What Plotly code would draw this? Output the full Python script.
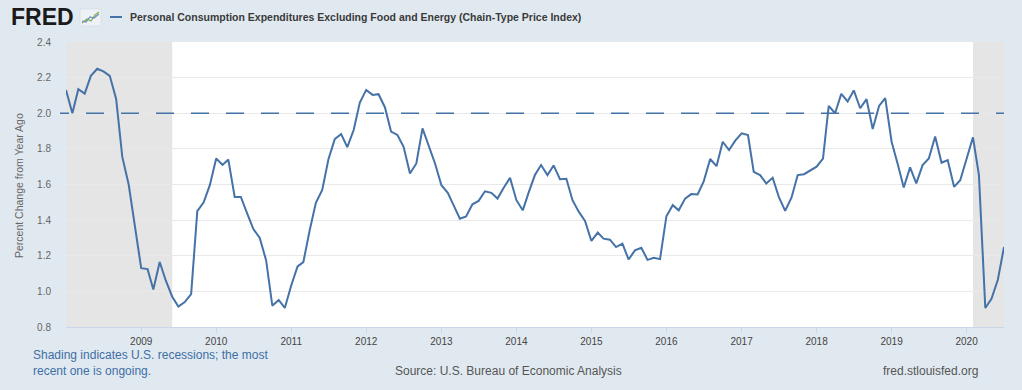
import plotly.graph_objects as go
import pandas as pd

# ---- data (monthly, % change from year ago) ----
start_month = "2008-01-01"
core_pce_yoy = [
    2.13, 2.00, 2.135, 2.11, 2.21, 2.25, 2.235, 2.21, 2.08, 1.755, 1.60, 1.36,   # 2008
    1.13, 1.125, 1.01, 1.165, 1.06, 0.97, 0.915, 0.94, 0.985, 1.45, 1.50, 1.596,  # 2009
    1.746, 1.71, 1.74, 1.53, 1.53, 1.437, 1.35, 1.30, 1.174, 0.92, 0.952, 0.907,  # 2010
    1.033, 1.14, 1.164, 1.343, 1.497, 1.57, 1.74, 1.855, 1.883, 1.81, 1.906, 2.06,  # 2011
    2.131, 2.103, 2.107, 2.034, 1.897, 1.878, 1.812, 1.662, 1.718, 1.915, 1.812, 1.718,  # 2012
    1.596, 1.553, 1.484, 1.408, 1.42, 1.489, 1.508, 1.562, 1.553, 1.521, 1.583, 1.638,  # 2013
    1.512, 1.455, 1.553, 1.653, 1.709, 1.653, 1.707, 1.630, 1.632, 1.512, 1.446, 1.395,  # 2014
    1.283, 1.33, 1.296, 1.29, 1.249, 1.268, 1.179, 1.23, 1.245, 1.177, 1.189, 1.181,  # 2015
    1.422, 1.484, 1.455, 1.521, 1.546, 1.544, 1.619, 1.743, 1.703, 1.84, 1.793, 1.846,  # 2016
    1.887, 1.878, 1.671, 1.653, 1.606, 1.638, 1.531, 1.452, 1.527, 1.653, 1.658, 1.681,  # 2017
    1.70, 1.746, 2.041, 2.0, 2.109, 2.066, 2.128, 2.028, 2.079, 1.912, 2.041, 2.085,  # 2018
    1.84, 1.709, 1.583, 1.696, 1.606, 1.709, 1.746, 1.869, 1.722, 1.737, 1.587, 1.624,  # 2019
    1.746, 1.865, 1.653, 0.907, 0.958, 1.065, 1.249,  # 2020
]
dates = pd.date_range(start_month, periods=len(core_pce_yoy), freq="MS")

recession_starts = ["2008-01-01", "2020-02-01"]
recession_ends = ["2009-06-01", "2020-07-01"]
reference_level = 2.0

y_ticks = [0.8, 1.0, 1.2, 1.4, 1.6, 1.8, 2.0, 2.2, 2.4]
y_tick_labels = ["0.8", "1.0", "1.2", "1.4", "1.6", "1.8", "2.0", "2.2", "2.4"]
x_tick_years = [str(y) for y in range(2009, 2021)]

series_title = "Personal Consumption Expenditures Excluding Food and Energy (Chain-Type Price Index)"
y_title = "Percent Change from Year Ago"

# ---- style ----
BG = "#e1e9f0"
LINE = "#4572a7"
FONT = "Liberation Sans, Arial, sans-serif"
W, H = 1022, 390
ML, MR, MT, MB = 66, 18, 42, 63
PW, PH = W - ML - MR, H - MT - MB


def px(x):
    return (x - ML) / PW


def py(y):
    return 1 - (y - MT) / PH


fig = go.Figure()
fig.add_trace(go.Scatter(
    x=dates, y=core_pce_yoy, mode="lines",
    line=dict(color=LINE, width=2), showlegend=False, hoverinfo="x+y",
))

for s, e in zip(recession_starts, recession_ends):
    fig.add_shape(type="rect", xref="x", yref="paper", x0=s, x1=e, y0=0, y1=1,
                  fillcolor="#e5e5e5", line=dict(width=0), layer="between")

dash_pattern = ",".join(["9px", "17px"] + ["18px", "17px"] * 28)
fig.add_shape(type="line", xref="paper", yref="y", x0=px(60), x1=1,
              y0=reference_level, y1=reference_level,
              line=dict(color=LINE, width=1.6, dash=dash_pattern), layer="above")

fig.update_layout(
    width=W, height=H,
    margin=dict(l=ML, r=MR, t=MT, b=MB, autoexpand=False),
    paper_bgcolor=BG, plot_bgcolor="#ffffff",
    font=dict(family=FONT, color="#555555", size=10),
    showlegend=False,
)
fig.update_xaxes(
    range=[dates[0], dates[-1]],
    tickvals=[pd.Timestamp(f"{y}-01-01") for y in x_tick_years],
    ticktext=x_tick_years,
    showgrid=False, zeroline=False,
    showline=True, linecolor="#ccd6eb", linewidth=1,
    ticks="outside", ticklen=5, tickcolor="#ccd6eb", tickwidth=1,
    tickfont=dict(size=10, color="#444444"),
)
fig.update_yaxes(
    range=[0.8, 2.4], tickvals=y_ticks, ticktext=y_tick_labels,
    showgrid=True, gridcolor="#e9e9e9", gridwidth=1, zeroline=False,
    showline=False, ticks="", ticklabelstandoff=14,
    tickfont=dict(size=10, color="#666666"),
)

annotations = [
    dict(text="<b>FRED</b>", x=9, y=17, font=dict(size=23, color="#1a1a1a", family=FONT),
         xanchor="left"),
    dict(text="<b>" + series_title + "</b>", x=128, y=17,
         font=dict(size=10.5, color="#3a3a3a", family=FONT), xanchor="left"),
    dict(text=y_title, x=19, y=186, textangle=-90,
         font=dict(size=10.5, color="#666666", family=FONT), xanchor="center"),
    dict(text="Shading indicates U.S. recessions; the most<br>recent one is ongoing.",
         x=31, y=363, align="left", font=dict(size=12, color="#3e6ea6", family=FONT),
         xanchor="left"),
    dict(text="Source: U.S. Bureau of Economic Analysis", x=508, y=371,
         font=dict(size=12, color="#555555", family=FONT), xanchor="center"),
    dict(text="fred.stlouisfed.org", x=980, y=371,
         font=dict(size=12, color="#555555", family=FONT), xanchor="right"),
]
for a in annotations:
    ax, ay = a.pop("x"), a.pop("y")
    fig.add_annotation(xref="paper", yref="paper", x=px(ax), y=py(ay),
                       yanchor="middle", showarrow=False, **a)

# legend swatch and small logo graphic in header
fig.add_shape(type="line", xref="paper", yref="paper",
              x0=px(110), x1=px(122), y0=py(17), y1=py(17),
              line=dict(color=LINE, width=2))
fig.add_shape(type="rect", xref="paper", yref="paper",
              x0=px(80), x1=px(101), y0=py(26), y1=py(9),
              fillcolor="#eef2f6", line=dict(color="#c8d2dc", width=0.5))
for pts, col in [([(82, 23), (87, 19), (91, 21), (95, 15), (99, 12)], "#7fae4a"),
                 ([(82, 21), (86, 22), (90, 17), (94, 18), (99, 14)], "#6f8fb8")]:
    path = " ".join(f"{'M' if i == 0 else 'L'} {px(a):.5f},{py(b):.5f}"
                    for i, (a, b) in enumerate(pts))
    fig.add_shape(type="path", xref="paper", yref="paper", path=path,
                  line=dict(color=col, width=1.2))

fig.write_html(
    "out.html",
    config={"displayModeBar": False},
    post_script="document.body.style.margin='0';document.body.style.overflow='hidden';",
)
